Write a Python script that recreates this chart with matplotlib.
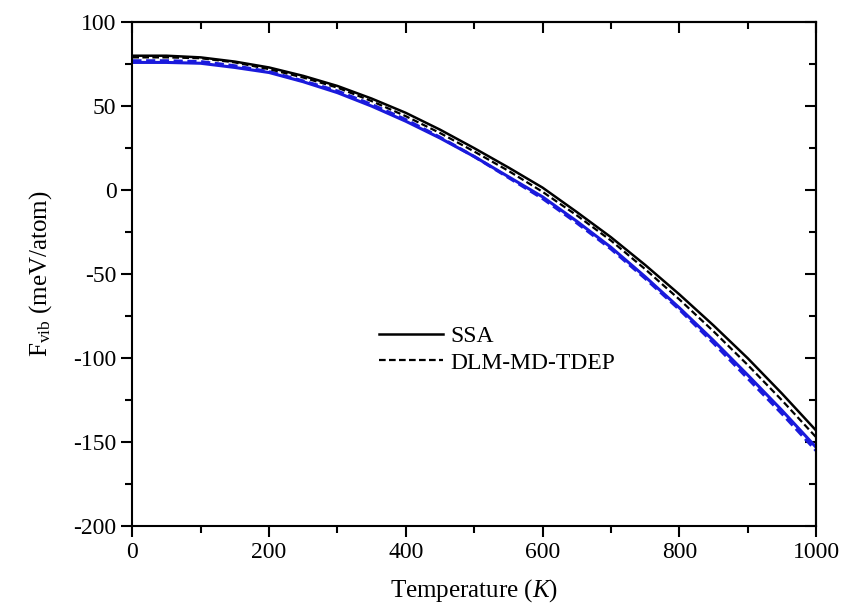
import matplotlib
matplotlib.use('Agg')
import matplotlib.pyplot as plt
from matplotlib.ticker import MultipleLocator

plt.rcParams['font.family'] = 'Liberation Serif'
plt.rcParams['mathtext.fontset'] = 'custom'
plt.rcParams['mathtext.rm'] = 'Liberation Serif'
plt.rcParams['mathtext.it'] = 'Liberation Serif:italic'
plt.rcParams['axes.unicode_minus'] = False

# temperature grid (K) and free energies (meV/atom)
temperature = [0, 50, 100, 150, 200, 250, 300, 350, 400, 450, 500,
               550, 600, 650, 700, 750, 800, 850, 900, 950, 1000]
ssa = [80, 80, 79, 76.5, 73, 68, 62, 54.5, 46, 36, 25,
       13.5, 1.5, -13, -28, -44.5, -62, -80.5, -100, -121, -143]
dlm_md_tdep = [79, 79, 78.5, 76, 72, 67, 61, 53, 44, 34, 23,
               11.5, -1, -15, -30, -47, -65, -84, -104, -125, -147]
blue_solid = [76, 76, 75.5, 73, 70, 64.5, 58, 50, 41, 31, 20,
              8, -4, -18.5, -34, -51.5, -70, -89.5, -110, -131, -153]
blue_dashed = [77, 77, 76.5, 74, 70.5, 65, 59, 51, 42, 31.5, 20,
               7.5, -5, -19.5, -35, -52.5, -71, -91, -112, -133, -155]

fig = plt.figure(figsize=(8.43, 6.14), dpi=100)
ax = fig.add_axes([0.157, 0.143, 0.811, 0.821])

ax.plot(temperature, blue_solid, color='#1a1adc', lw=2.2)
ax.plot(temperature, blue_dashed, color='#1a1adc', lw=2.2, ls=(0, (3, 1.5)))
ax.plot(temperature, ssa, color='black', lw=1.8, label='SSA')
ax.plot(temperature, dlm_md_tdep, color='black', lw=1.6, ls=(0, (3, 1.5)),
        label='DLM-MD-TDEP')

ax.set_xlim(0, 1000)
ax.set_ylim(-200, 100)
ax.xaxis.set_major_locator(MultipleLocator(200))
ax.xaxis.set_minor_locator(MultipleLocator(100))
ax.yaxis.set_major_locator(MultipleLocator(50))
ax.yaxis.set_minor_locator(MultipleLocator(25))

ax.tick_params(which='major', direction='out', length=8, width=1.5, labelsize=17)
ax.tick_params(which='minor', direction='out', length=5, width=1.5)
for s in ax.spines.values():
    s.set_linewidth(1.5)

# top and right ticks point inwards
top = ax.secondary_xaxis('top')
top.xaxis.set_major_locator(MultipleLocator(200))
top.xaxis.set_minor_locator(MultipleLocator(100))
top.tick_params(which='major', direction='in', length=8, width=1.5, labeltop=False)
top.tick_params(which='minor', direction='in', length=5, width=1.5)
top.spines['top'].set_linewidth(1.5)
right = ax.secondary_yaxis('right')
right.yaxis.set_major_locator(MultipleLocator(50))
right.yaxis.set_minor_locator(MultipleLocator(25))
right.tick_params(which='major', direction='in', length=8, width=1.5, labelright=False)
right.tick_params(which='minor', direction='in', length=5, width=1.5)
right.spines['right'].set_linewidth(1.5)

ax.set_xlabel('Temperature ($K$)', fontsize=18, labelpad=10)
ax.set_ylabel('F$_{\\mathrm{vib}}$ (meV/atom)', fontsize=18, labelpad=14)

ax.legend(loc='center left', bbox_to_anchor=(0.33, 0.35), frameon=False,
          fontsize=17, handlelength=2.7, handletextpad=0.3, labelspacing=0.2)

fig.savefig('out.png', dpi=100, facecolor='white')
